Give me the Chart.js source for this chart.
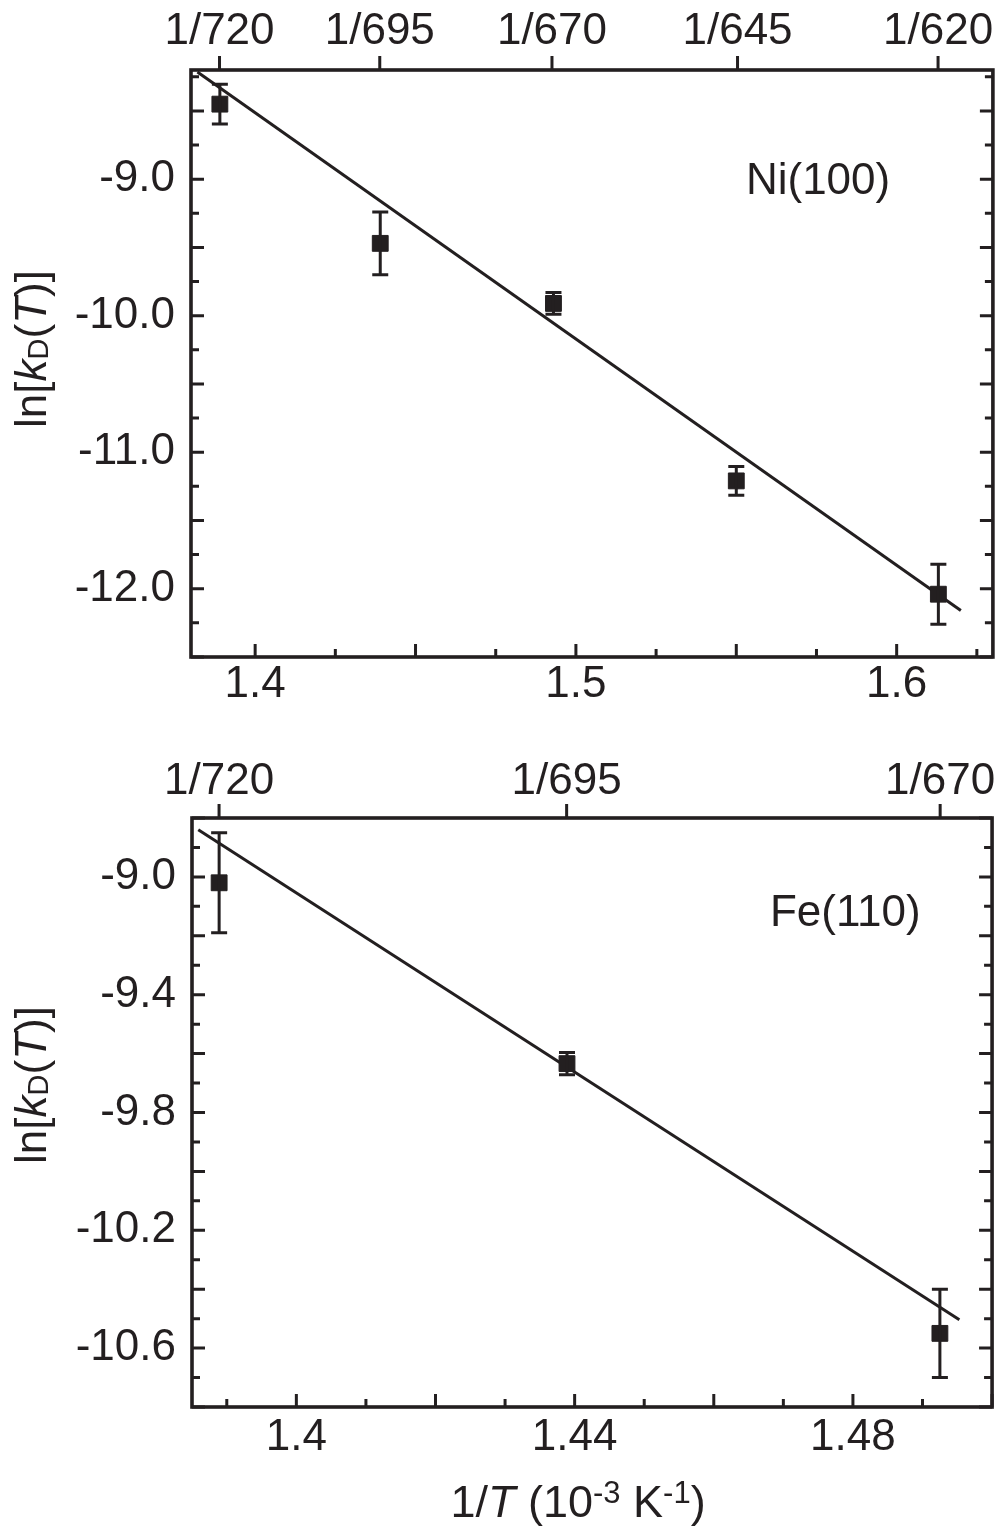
<!DOCTYPE html>
<html><head><meta charset="utf-8">
<script src="https://cdn.jsdelivr.net/npm/chart.js@4.4.1/dist/chart.umd.min.js"></script>
<style>
html,body{margin:0;padding:0;background:#fff;}
#wrap{position:relative;width:1006px;height:1532px;overflow:hidden;}
canvas{position:absolute;left:0;}
</style></head><body>
<div id="wrap">
<canvas id="c1" width="1006" height="760" style="top:0"></canvas>
<canvas id="c2" width="1006" height="772" style="top:760px"></canvas>
</div>
<script>
// ---------- Ni(100) panel data ----------
const niX = [1.389, 1.439, 1.493, 1.550, 1.613];
const niY = [-8.45, -9.47, -9.91, -11.21, -12.04];
const niErr = [0.145, 0.23, 0.08, 0.105, 0.22];
const niFitX = [1.382, 1.620];
const niFitY = [-8.215, -12.16];
const niTopTemps = [720, 695, 670, 645, 620];
const niTopLabels = ['1/720', '1/695', '1/670', '1/645', '1/620'];
const niXTicks = [1.4, 1.5, 1.6];
const niXLabels = ['1.4', '1.5', '1.6'];
const niYTicks = [-12, -11, -10, -9];
const niYLabels = ['-12.0', '-11.0', '-10.0', '-9.0'];

// ---------- Fe(110) panel data ----------
const feX = [1.3889, 1.4389, 1.4925];
const feY = [-9.02, -9.634, -10.55];
const feErr = [0.17, 0.038, 0.15];
const feFitX = [1.3859, 1.4953];
const feFitY = [-8.84, -10.504];
const feTopTemps = [720, 695, 670];
const feTopLabels = ['1/720', '1/695', '1/670'];
const feXTicks = [1.4, 1.44, 1.48];
const feXLabels = ['1.4', '1.44', '1.48'];
const feYTicks = [-10.6, -10.2, -9.8, -9.4, -9.0];
const feYLabels = ['-10.6', '-10.2', '-9.8', '-9.4', '-9.0'];

const INK = '#231f20';
const FONT = '"Liberation Sans", Arial, Helvetica, sans-serif';
const FS = 44;

function drawPieces(ctx, pieces, startX, baseY) {
  let x = startX;
  for (const p of pieces) {
    ctx.font = p[1];
    ctx.fillText(p[0], x, baseY + p[2]);
    x += ctx.measureText(p[0]).width;
  }
  return x;
}
function piecesWidth(ctx, pieces) {
  let w = 0;
  for (const p of pieces) { ctx.font = p[1]; w += ctx.measureText(p[0]).width; }
  return w;
}

function tickPositions(min, max, step) {
  const out = [];
  const n0 = Math.ceil(min / step - 1e-9), n1 = Math.floor(max / step + 1e-9);
  for (let n = n0; n <= n1; n++) out.push(n * step);
  return out;
}
function isMulti(v, step) { const r = v / step; return Math.abs(r - Math.round(r)) < 1e-6; }

function makePlugin(cfg) {
  return {
    id: 'decor_' + cfg.id,
    afterDatasetsDraw(chart) {
      const ctx = chart.ctx, a = chart.chartArea;
      const xs = chart.scales.x, ys = chart.scales.y, x2 = chart.scales.x2;
      ctx.save();
      ctx.strokeStyle = INK; ctx.fillStyle = INK;
      // error bars
      ctx.lineWidth = 3; ctx.lineCap = 'butt';
      cfg.x.forEach((xv, i) => {
        const px = xs.getPixelForValue(xv);
        const pt = ys.getPixelForValue(cfg.y[i] + cfg.err[i]);
        const pb = ys.getPixelForValue(cfg.y[i] - cfg.err[i]);
        ctx.beginPath();
        ctx.moveTo(px, pt); ctx.lineTo(px, pb);
        ctx.moveTo(px - 8, pt); ctx.lineTo(px + 8, pt);
        ctx.moveTo(px - 8, pb); ctx.lineTo(px + 8, pb);
        ctx.stroke();
      });
      // frame
      ctx.lineWidth = 3.6;
      ctx.strokeRect(a.left, a.top, a.right - a.left, a.bottom - a.top);
      // x ticks (bottom, inward)
      ctx.lineWidth = 3;
      ctx.beginPath();
      for (const v of tickPositions(xs.min, xs.max, cfg.xMinor)) {
        const px = xs.getPixelForValue(v);
        const len = isMulti(v, cfg.xMajor) ? 13 : 8;
        ctx.moveTo(px, a.bottom); ctx.lineTo(px, a.bottom - len);
      }
      // y ticks (left and right, inward)
      for (const v of tickPositions(ys.min, ys.max, cfg.yMinor)) {
        const py = ys.getPixelForValue(v);
        const len = isMulti(v, cfg.yMajor) ? 13 : 8;
        ctx.moveTo(a.left, py); ctx.lineTo(a.left + len, py);
        ctx.moveTo(a.right, py); ctx.lineTo(a.right - len, py);
      }
      // top ticks (outward)
      for (const t of cfg.topTemps) {
        const px = x2.getPixelForValue(1000 / t);
        ctx.moveTo(px, a.top); ctx.lineTo(px, a.top - 14);
      }
      ctx.stroke();
      // panel label
      ctx.font = FS + 'px ' + FONT;
      ctx.textAlign = 'center'; ctx.textBaseline = 'middle';
      ctx.fillText(cfg.label, xs.getPixelForValue(cfg.labelX), ys.getPixelForValue(cfg.labelY));
      // y title
      ctx.textAlign = 'left'; ctx.textBaseline = 'alphabetic';
      const yp = [
        ['ln[', FS + 'px ' + FONT, 0],
        ['k', 'italic ' + FS + 'px ' + FONT, 0],
        ['D', '29px ' + FONT, 2],
        ['(', FS + 'px ' + FONT, 0],
        ['T', 'italic ' + FS + 'px ' + FONT, 0],
        [')]', FS + 'px ' + FONT, 0]
      ];
      const w = piecesWidth(ctx, yp);
      ctx.save();
      ctx.translate(46, cfg.yTitleCenter);
      ctx.rotate(-Math.PI / 2);
      drawPieces(ctx, yp, -w / 2, 0);
      ctx.restore();
      // x title
      if (cfg.xTitle) {
        const xp = [
          ['1/', '45px ' + FONT, 0],
          ['T', 'italic 45px ' + FONT, 0],
          [' (10', '45px ' + FONT, 0],
          ['-3', '31px ' + FONT, -14],
          [' K', '45px ' + FONT, 0],
          ['-1', '31px ' + FONT, -14],
          [')', '45px ' + FONT, 0]
        ];
        const ww = piecesWidth(ctx, xp);
        drawPieces(ctx, xp, (a.left + a.right) / 2 - 14 - ww / 2, a.bottom + 110);
      }
      ctx.restore();
    }
  };
}

function makeChart(canvas, cfg) {
  const tickFont = { family: FONT, size: FS };
  return new Chart(canvas, {
    type: 'scatter',
    data: {
      datasets: [
        {
          type: 'line',
          data: cfg.fitX.map((x, i) => ({ x: x, y: cfg.fitY[i] })),
          borderColor: INK, borderWidth: 3, pointRadius: 0, fill: false, tension: 0, order: 2
        },
        {
          data: cfg.x.map((x, i) => ({ x: x, y: cfg.y[i] })),
          pointStyle: 'rect', pointRadius: 11.2, backgroundColor: INK, borderColor: INK,
          borderWidth: 1, order: 1
        }
      ]
    },
    options: {
      responsive: false, animation: false, devicePixelRatio: 1,
      layout: { padding: { left: 0, right: cfg.padRight, top: 0, bottom: 0 } },
      plugins: { legend: { display: false }, tooltip: { enabled: false } },
      scales: {
        x: {
          type: 'linear', position: 'bottom', min: cfg.xMin, max: cfg.xMax,
          grid: { display: false, drawTicks: false }, border: { display: false },
          afterBuildTicks: s => { s.ticks = cfg.xTicks.map(v => ({ value: v })); },
          ticks: { callback: (v, i) => cfg.xLabels[i], font: tickFont, color: INK, padding: cfg.xPad, maxRotation: 0, autoSkip: false },
          afterFit: s => { s.height = cfg.bottomH; }
        },
        x2: {
          type: 'linear', position: 'top', min: cfg.xMin, max: cfg.xMax,
          grid: { display: false, drawTicks: false }, border: { display: false },
          afterBuildTicks: s => { s.ticks = cfg.topTemps.map(t => ({ value: 1000 / t })); },
          ticks: { callback: (v, i) => cfg.topLabels[i], font: tickFont, color: INK, padding: cfg.x2Pad, maxRotation: 0, autoSkip: false },
          afterFit: s => { s.height = cfg.topH; }
        },
        y: {
          type: 'linear', position: 'left', min: cfg.yMin, max: cfg.yMax,
          grid: { display: false, drawTicks: false }, border: { display: false },
          afterBuildTicks: s => { s.ticks = cfg.yTicks.map(v => ({ value: v })); },
          ticks: { callback: (v, i) => cfg.yLabels[i], font: tickFont, color: INK, padding: 16, autoSkip: false },
          afterFit: s => { s.width = cfg.leftW; }
        }
      }
    },
    plugins: [makePlugin(cfg)]
  });
}

makeChart(document.getElementById('c1'), {
  id: 'ni', x: niX, y: niY, err: niErr, fitX: niFitX, fitY: niFitY,
  topTemps: niTopTemps, topLabels: niTopLabels, xTicks: niXTicks, xLabels: niXLabels,
  yTicks: niYTicks, yLabels: niYLabels,
  xMin: 1.38, xMax: 1.63, yMin: -12.5, yMax: -8.2,
  xMinor: 0.025, xMajor: 0.05, yMinor: 0.25, yMajor: 0.5,
  padRight: 13, bottomH: 103, topH: 70, leftW: 191, xPad: 1, x2Pad: 12,
  label: 'Ni(100)', labelX: 1.5755, labelY: -9.02, yTitleCenter: 349, xTitle: false
});

makeChart(document.getElementById('c2'), {
  id: 'fe', x: feX, y: feY, err: feErr, fitX: feFitX, fitY: feFitY,
  topTemps: feTopTemps, topLabels: feTopLabels, xTicks: feXTicks, xLabels: feXLabels,
  yTicks: feYTicks, yLabels: feYLabels,
  xMin: 1.385, xMax: 1.5, yMin: -10.8, yMax: -8.8,
  xMinor: 0.01, xMajor: 0.02, yMinor: 0.1, yMajor: 0.2,
  padRight: 11, bottomH: 125, topH: 58, leftW: 192, xPad: 4, x2Pad: 10,
  label: 'Fe(110)', labelX: 1.4789, labelY: -9.127, yTitleCenter: 325, xTitle: true
});
</script>
</body></html>
